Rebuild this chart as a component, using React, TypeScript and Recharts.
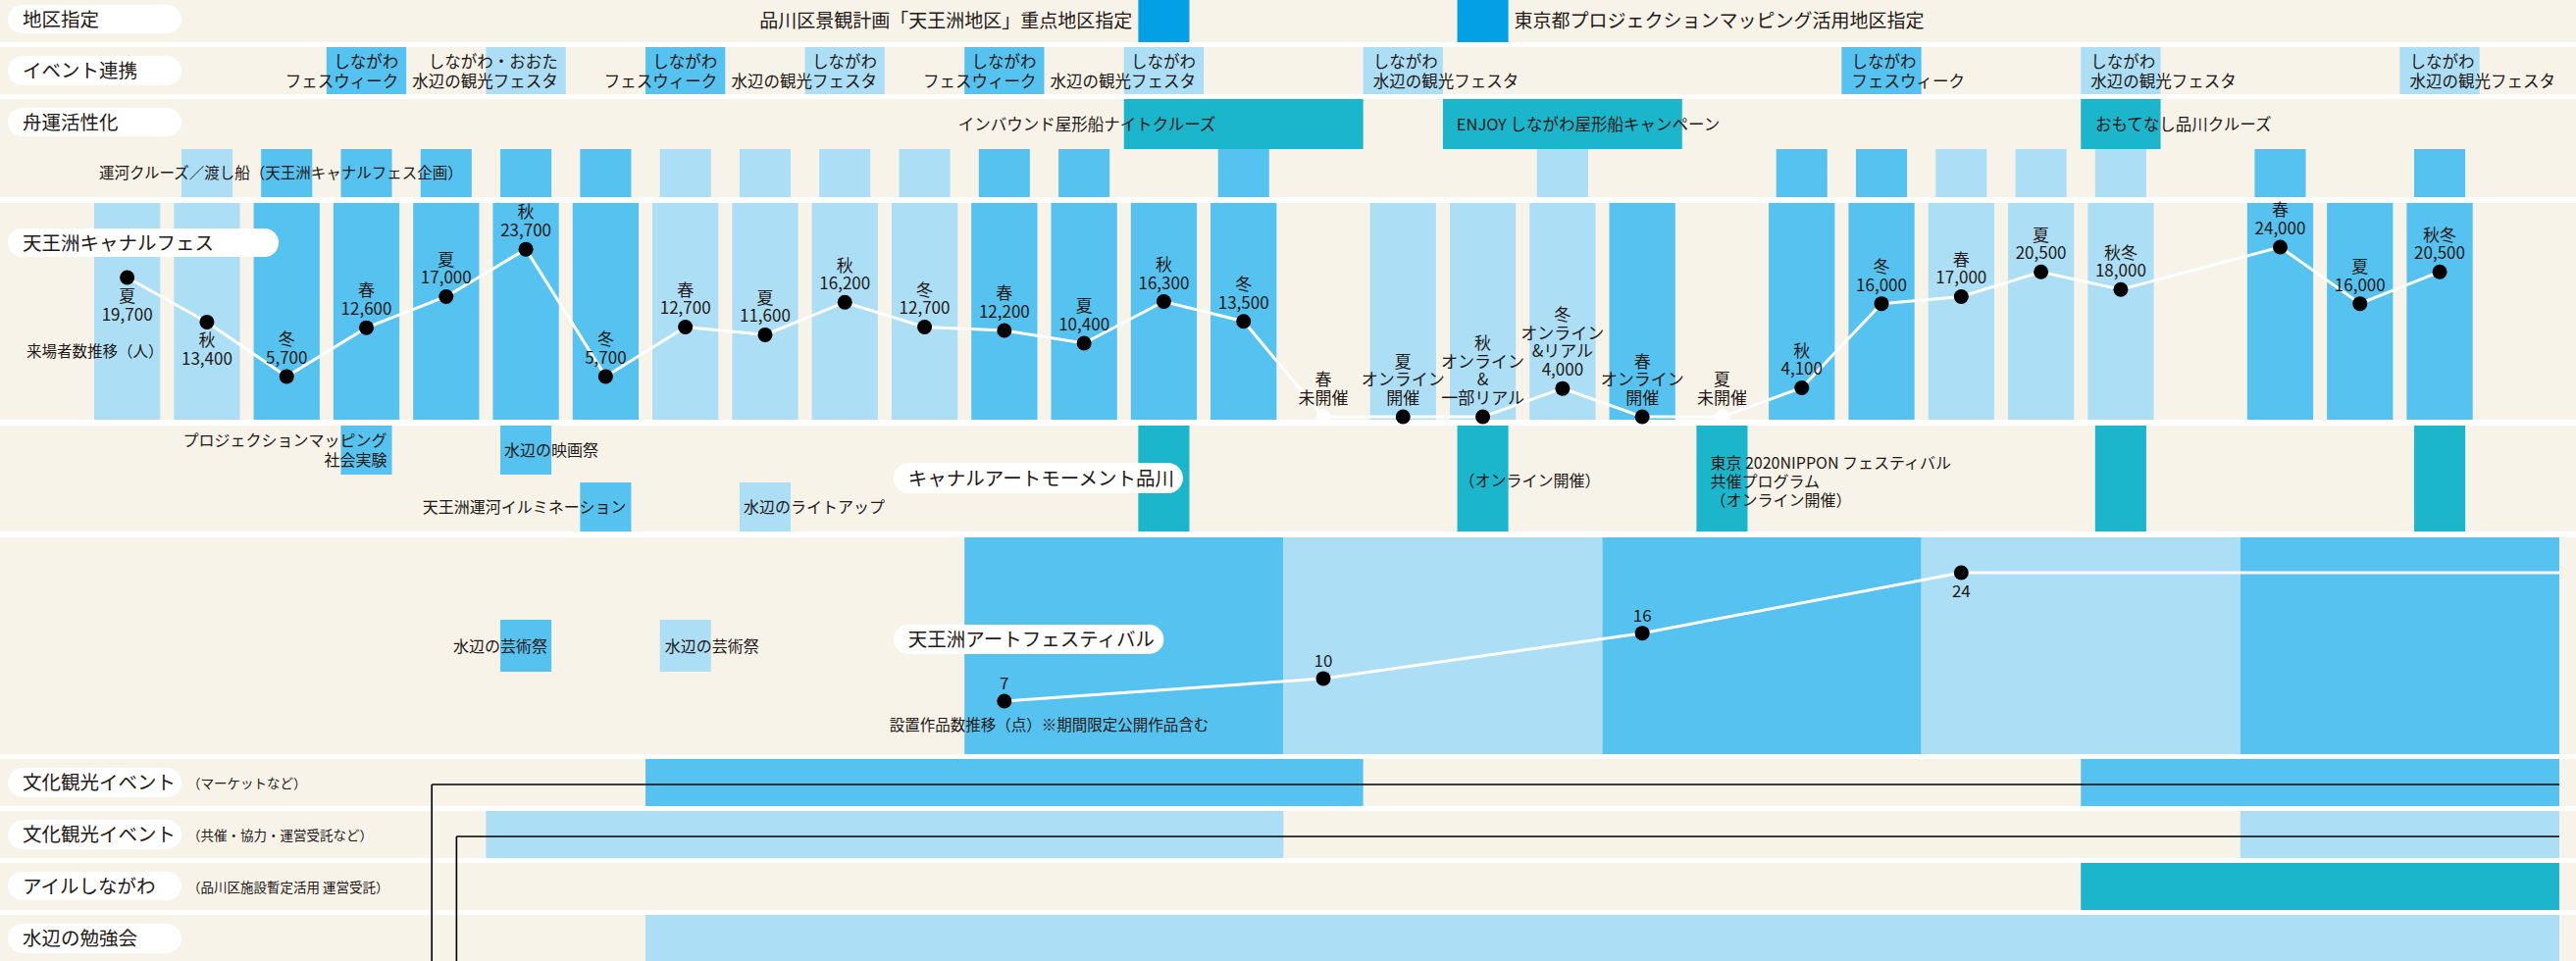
import React from "react";
import {
  ComposedChart,
  XAxis,
  YAxis,
  Line,
  ReferenceArea,
  ReferenceDot,
  ReferenceLine,
} from "recharts";

document.body.style.margin = "0";

const WIDTH = 2626;
const HEIGHT = 980;

const INK = "#231815";
const CREAM = "#f7f3e9";
const FONT = "'Noto Sans CJK JP', 'Noto Sans', sans-serif";
const toneColor: Record<string, string> = {
  blue: "#56c2f0",
  light: "#acdff6",
  teal: "#1cb6cc",
  deep: "#03a0e6",
};

// x axis: one unit = one season slot (81.3px), slot 0 starts at 89px
const SLOT_PX = 81.29;
const SLOT_ORIGIN = 89;
const X_DOMAIN: [number, number] = [-SLOT_ORIGIN / SLOT_PX, (WIDTH - SLOT_ORIGIN) / SLOT_PX];
const BAR_PAD = 7 / SLOT_PX;
const NARROW_PAD = 14.6 / SLOT_PX;

// value axis helper: value v1 sits at pixel y1, v2 at y2
const linearDomain = (v1: number, y1: number, v2: number, y2: number): [number, number] => {
  const pxPerUnit = (y1 - y2) / (v2 - v1);
  return [v1 - (HEIGHT - y1) / pxPerUnit, v1 + y1 / pxPerUnit];
};
const VISITOR_DOMAIN = linearDomain(0, 425, 24000, 252);
const WORKS_DOMAIN = linearDomain(0, 769, 24, 584);

// ---------------- data ----------------

// 地区指定
const districtSlots = [13, 17];
const districtNames = [
  "品川区景観計画「天王洲地区」重点地区指定",
  "東京都プロジェクションマッピング活用地区指定",
];

// イベント連携
const linkSlots = [3, 5, 7, 9, 11, 13, 16, 22, 25, 29];
const linkNames = [
  ["しながわ", "フェスウィーク"],
  ["しながわ・おおた", "水辺の観光フェスタ"],
  ["しながわ", "フェスウィーク"],
  ["しながわ", "水辺の観光フェスタ"],
  ["しながわ", "フェスウィーク"],
  ["しながわ", "水辺の観光フェスタ"],
  ["しながわ", "水辺の観光フェスタ"],
  ["しながわ", "フェスウィーク"],
  ["しながわ", "水辺の観光フェスタ"],
  ["しながわ", "水辺の観光フェスタ"],
];

// 舟運活性化
const cruiseFrom = [13, 17, 25];
const cruiseTo = [16, 20, 26];
const cruiseLabelAt = [10.92, 17.17, 25.18];
const cruiseNames = [
  "インバウンド屋形船ナイトクルーズ",
  "ENJOY しながわ屋形船キャンペーン",
  "おもてなし品川クルーズ",
];

// 運河クルーズ／渡し船
const ferryLightSlots = [1, 7, 8, 9, 10, 18, 23, 24, 25];
const ferryBlueSlots = [2, 3, 4, 5, 6, 11, 12, 14, 21, 22, 27, 29];

// 天王洲キャナルフェス
const festSeasons = [
  "夏", "秋", "冬", "春", "夏", "秋", "冬", "春", "夏", "秋",
  "冬", "春", "夏", "秋", "冬", "春", "夏", "秋", "冬", "春",
  "夏", "秋", "冬", "春", "夏", "秋冬", "", "春", "夏", "秋冬",
];
const festVisitors: (number | null)[] = [
  19700, 13400, 5700, 12600, 17000, 23700, 5700, 12700, 11600, 16200,
  12700, 12200, 10400, 16300, 13500, 0, 0, 0, 4000, 0,
  0, 4100, 16000, 17000, 20500, 18000, null, 24000, 16000, 20500,
];
const festTones = [
  "light", "light", "blue", "blue", "blue", "blue", "blue", "light", "light", "light",
  "light", "blue", "blue", "blue", "blue", "", "light", "light", "light", "blue",
  "", "blue", "blue", "light", "light", "light", "", "blue", "blue", "blue",
];
const festNotes: Record<number, string[]> = {
  15: ["未開催"],
  16: ["オンライン", "開催"],
  17: ["オンライン", "&", "一部リアル"],
  18: ["オンライン", "&リアル"],
  19: ["オンライン", "開催"],
  20: ["未開催"],
};
const festLabelBelow = [0, 1];

// プロジェクションマッピング等
const sideSlots = [3, 5, 6, 8];
const sideTiers = ["upper", "upper", "lower", "lower"];
const sideTones = ["blue", "blue", "blue", "light"];
const sideNames = [
  ["プロジェクションマッピング", "社会実験"],
  ["水辺の映画祭"],
  ["天王洲運河イルミネーション"],
  ["水辺のライトアップ"],
];

// キャナルアートモーメント品川
const momentSlots = [13, 17, 20, 25, 29];

// 水辺の芸術祭
const artFairSlots = [5, 7];
const artFairTones = ["blue", "light"];

// 天王洲アートフェスティバル
const artYearFrom = [11, 15, 19, 23, 27];
const artYearTo = [15, 19, 23, 27, 31];
const artYearTones = ["blue", "light", "blue", "light", "blue"];
const artSlots = [11.5, 15.5, 19.5, 23.5, 31];
const artWorks = [7, 10, 16, 24, 24];

// bottom rows
const marketFrom = [7, 25];
const marketTo = [16, 31];
const coopFrom = [5, 27];
const coopTo = [15, 31];
const isleFrom = [25];
const isleTo = [31];
const studyFrom = [7];
const studyTo = [31];

// ---------------- layout (px rows) ----------------
const ROWS: [number, number][] = [
  [0, 43], [48, 96], [101, 201], [207, 428], [434, 542],
  [548, 769], [774, 822], [827, 875], [880, 928], [933, 980],
];

const festData = festVisitors.map((v, i) => ({ slot: i + 0.5, visitors: v }));
const artData = artSlots.map((s, i) => ({ slot: s, works: artWorks[i], last: i === artSlots.length - 1 }));

// ---------------- helpers ----------------
const TextLines = ({
  cx, cy, lines, size = 16, anchor = "start", lh = 20, dx = 0,
}: {
  cx: number; cy: number; lines: string[]; size?: number; anchor?: string; lh?: number; dx?: number;
}) => {
  const top = cy - ((lines.length - 1) * lh) / 2;
  return (
    <text fontSize={size} fill={INK} textAnchor={anchor as any} fontFamily={FONT}>
      {lines.map((t, i) => (
        <tspan key={i} x={cx + dx} y={top + i * lh + size * 0.36}>
          {t}
        </tspan>
      ))}
    </text>
  );
};

const note = (
  key: string, x: number, y: number, lines: string[],
  opts: { size?: number; anchor?: string; lh?: number; dx?: number } = {}
) => (
  <ReferenceDot
    key={key}
    x={x}
    y={y}
    yAxisId="px"
    r={0}
    ifOverflow="visible"
    shape={(p: any) => <TextLines cx={p.cx} cy={p.cy} lines={lines} {...opts} />}
  />
);

const block = (key: string, x1: number, x2: number, y1: number, y2: number, fill: string) => (
  <ReferenceArea
    key={key}
    x1={x1}
    x2={x2}
    y1={y1}
    y2={y2}
    yAxisId="px"
    fill={fill}
    fillOpacity={1}
    stroke="none"
    ifOverflow="visible"
  />
);

const pill = (key: string, x1: number, x2: number, y1: number, y2: number, text: string, size = 19.5) => (
  <ReferenceArea
    key={key}
    x1={x1}
    x2={x2}
    y1={y1}
    y2={y2}
    yAxisId="px"
    fillOpacity={1}
    ifOverflow="visible"
    shape={(p: any) => (
      <g>
        <rect x={p.x} y={p.y} width={p.width} height={p.height} rx={p.height / 2} fill="#fff" />
        <text x={p.x + 15} y={p.y + p.height / 2 + size * 0.36} fontSize={size} fill={INK} fontFamily={FONT}>
          {text}
        </text>
      </g>
    )}
  />
);

const festLines = (i: number) => {
  const lines = [festSeasons[i], ...(festNotes[i] || [])];
  const v = festVisitors[i];
  if (v) lines.push(v.toLocaleString("en-US"));
  return lines;
};

const renderFestDot = (props: any) => {
  const { cx, cy, payload } = props;
  const i = Math.round(payload.slot - 0.5);
  if (payload.visitors == null || cx == null || cy == null) return <g key={`fd-${i}`} />;
  const lines = festLines(i);
  const below = festLabelBelow.includes(i);
  const closed = (festNotes[i] || []).includes("未開催");
  return (
    <g key={`fd-${i}`}>
      <circle cx={cx} cy={cy} r={7.5} fill={closed ? "#fff" : "#000"} />
      <text textAnchor="middle" fontSize={17} fill={INK} fontFamily={FONT}>
        {lines.map((t, k) => {
          const y = below ? cy + 19 + k * 18.7 : cy - 19 - (lines.length - 1 - k) * 18.7;
          return (
            <tspan key={k} x={cx} y={y + 6}>
              {t}
            </tspan>
          );
        })}
      </text>
    </g>
  );
};

const renderArtDot = (props: any) => {
  const { cx, cy, payload, index } = props;
  if (payload.last || cx == null || cy == null) return <g key={`ad-${index}`} />;
  const below = payload.works >= 24;
  return (
    <g key={`ad-${index}`}>
      <circle cx={cx} cy={cy} r={7.5} fill="#000" />
      <text x={cx} y={below ? cy + 25 : cy - 12} textAnchor="middle" fontSize={17} fill={INK} fontFamily={FONT}>
        {payload.works}
      </text>
    </g>
  );
};

export default function App() {
  const [r1, r2, r3, r4, r5, r6, r7, r8, r9, r10] = ROWS;
  const items: React.ReactNode[] = [];

  // row bands
  ROWS.forEach((r, i) => items.push(block(`band-${i}`, X_DOMAIN[0], X_DOMAIN[1], r[0], r[1], CREAM)));

  // 地区指定
  districtSlots.forEach((s, i) =>
    items.push(block(`dist-${i}`, s + NARROW_PAD, s + 1 - NARROW_PAD, r1[0], r1[1], toneColor.deep))
  );

  // イベント連携
  linkSlots.forEach((s, i) => {
    const tone = linkNames[i][1].includes("フェスウィーク") ? "blue" : "light";
    items.push(block(`link-${i}`, s, s + 1, r2[0], r2[1], toneColor[tone]));
  });

  // 舟運活性化
  cruiseFrom.forEach((s, i) =>
    items.push(block(`cruise-${i}`, s, cruiseTo[i], r3[0], 152, toneColor.teal))
  );
  ferryLightSlots.forEach((s) =>
    items.push(block(`ferryL-${s}`, s + NARROW_PAD, s + 1 - NARROW_PAD, 152, r3[1], toneColor.light))
  );
  ferryBlueSlots.forEach((s) =>
    items.push(block(`ferryB-${s}`, s + NARROW_PAD, s + 1 - NARROW_PAD, 152, r3[1], toneColor.blue))
  );

  // キャナルフェス bars
  festTones.forEach((t, i) => {
    if (t) items.push(block(`fest-${i}`, i + BAR_PAD, i + 1 - BAR_PAD, r4[0], r4[1], toneColor[t]));
  });

  // row 5
  sideSlots.forEach((s, i) => {
    const [y1, y2] = sideTiers[i] === "upper" ? [r5[0], 484] : [492, r5[1]];
    items.push(block(`side-${i}`, s + NARROW_PAD, s + 1 - NARROW_PAD, y1, y2, toneColor[sideTones[i]]));
  });
  momentSlots.forEach((s) =>
    items.push(block(`moment-${s}`, s + NARROW_PAD, s + 1 - NARROW_PAD, r5[0], r5[1], toneColor.teal))
  );

  // row 6
  artYearFrom.forEach((s, i) =>
    items.push(block(`artyear-${i}`, s, artYearTo[i], r6[0], r6[1], toneColor[artYearTones[i]]))
  );
  artFairSlots.forEach((s, i) =>
    items.push(block(`artfair-${i}`, s + NARROW_PAD, s + 1 - NARROW_PAD, 632, 685, toneColor[artFairTones[i]]))
  );

  // bottom rows
  marketFrom.forEach((s, i) => items.push(block(`market-${i}`, s, marketTo[i], r7[0], r7[1], toneColor.blue)));
  coopFrom.forEach((s, i) => items.push(block(`coop-${i}`, s, coopTo[i], r8[0], r8[1], toneColor.light)));
  isleFrom.forEach((s, i) => items.push(block(`isle-${i}`, s, isleTo[i], r9[0], r9[1], toneColor.teal)));
  studyFrom.forEach((s, i) => items.push(block(`study-${i}`, s, studyTo[i], r10[0], r10[1], toneColor.light)));

  // pills
  const pL = -0.996;
  const pR = 1.181;
  items.push(pill("p-dist", pL, pR, 5, 34, "地区指定"));
  items.push(pill("p-link", pL, pR, 57, 87, "イベント連携"));
  items.push(pill("p-boat", pL, pR, 110, 139, "舟運活性化"));
  items.push(pill("p-fest", pL, 2.4, 233, 262, "天王洲キャナルフェス"));
  items.push(pill("p-moment", 10.11, 13.74, 472, 503, "キャナルアートモーメント品川"));
  items.push(pill("p-art", 10.11, 13.5, 637, 667, "天王洲アートフェスティバル"));
  items.push(pill("p-market", pL, pR, 783, 813, "文化観光イベント"));
  items.push(pill("p-coop", pL, pR, 836, 866, "文化観光イベント"));
  items.push(pill("p-isle", pL, pR, 889, 918, "アイルしながわ"));
  items.push(pill("p-study", pL, pR, 942, 972, "水辺の勉強会"));

  // ongoing brackets
  items.push(
    <ReferenceLine key="br1a" yAxisId="px" segment={[{ x: 4.32, y: 980 }, { x: 4.32, y: 800 }]} stroke="#000" strokeWidth={1.6} ifOverflow="visible" />,
    <ReferenceLine key="br1b" yAxisId="px" segment={[{ x: 4.32, y: 800 }, { x: 31, y: 800 }]} stroke="#000" strokeWidth={1.6} ifOverflow="visible" />,
    <ReferenceLine key="br2a" yAxisId="px" segment={[{ x: 4.63, y: 980 }, { x: 4.63, y: 853 }]} stroke="#000" strokeWidth={1.6} ifOverflow="visible" />,
    <ReferenceLine key="br2b" yAxisId="px" segment={[{ x: 4.63, y: 853 }, { x: 31, y: 853 }]} stroke="#000" strokeWidth={1.6} ifOverflow="visible" />
  );

  // texts
  items.push(note("t-dist0", districtSlots[0] + NARROW_PAD, 21, [districtNames[0]], { size: 19, anchor: "end", dx: -6 }));
  items.push(note("t-dist1", districtSlots[1] + 1 - NARROW_PAD, 21, [districtNames[1]], { size: 19, dx: 6 }));
  linkSlots.forEach((s, i) => {
    const right = s < 15;
    items.push(
      note(`t-link-${i}`, right ? s + 1 : s, 73, linkNames[i], {
        size: 16.5, anchor: right ? "end" : "start", dx: right ? -8 : 10, lh: 20,
      })
    );
  });
  cruiseLabelAt.forEach((x, i) => items.push(note(`t-cruise-${i}`, x, 127, [cruiseNames[i]], { size: 16.5 })));
  items.push(note("t-ferry", 0.148, 176, ["運河クルーズ／渡し船（天王洲キャナルフェス企画）"], { size: 15.5 }));
  items.push(note("t-visitors", -0.763, 358, ["来場者数推移（人）"], { size: 15.5 }));

  sideSlots.forEach((s, i) => {
    const right = sideNames[i].length > 1 || sideNames[i][0].length > 10;
    const y = sideTiers[i] === "upper" ? 459 : 517;
    items.push(
      note(`t-side-${i}`, right ? s + 1 - NARROW_PAD : s + NARROW_PAD, y, sideNames[i], {
        size: 16, anchor: right ? "end" : "start", dx: right ? -5 : 4, lh: 20,
      })
    );
  });
  items.push(note("t-online", 17 + NARROW_PAD, 490, ["（オンライン開催）"], { size: 16, dx: 2 }));
  items.push(
    note("t-tokyo", 20 + NARROW_PAD, 491, ["東京 2020NIPPON フェスティバル", "共催プログラム", "（オンライン開催）"], {
      size: 16, dx: 14, lh: 19,
    })
  );
  items.push(note("t-fair0", artFairSlots[0] + 1 - NARROW_PAD, 659, ["水辺の芸術祭"], { size: 16, anchor: "end", dx: -4 }));
  items.push(note("t-fair1", artFairSlots[1] + NARROW_PAD, 659, ["水辺の芸術祭"], { size: 16, dx: 5 }));
  items.push(note("t-works", 10.06, 739, ["設置作品数推移（点）※期間限定公開作品含む"], { size: 15.5 }));
  items.push(note("t-market", 1.255, 799, ["（マーケットなど）"], { size: 13.5 }));
  items.push(note("t-coop", 1.255, 852, ["（共催・協力・運営受託など）"], { size: 13.5 }));
  items.push(note("t-isle", 1.255, 905, ["（品川区施設暫定活用 運営受託）"], { size: 13.5 }));

  return (
    <div style={{ width: WIDTH, height: HEIGHT, background: "#fff", fontFamily: FONT }}>
      <ComposedChart width={WIDTH} height={HEIGHT} margin={{ top: 0, right: 0, bottom: 0, left: 0 }}>
        <XAxis type="number" dataKey="slot" domain={X_DOMAIN} hide allowDataOverflow />
        <YAxis yAxisId="px" type="number" domain={[0, HEIGHT]} reversed hide allowDataOverflow />
        <YAxis yAxisId="visitors" type="number" domain={VISITOR_DOMAIN} hide allowDataOverflow />
        <YAxis yAxisId="works" type="number" domain={WORKS_DOMAIN} hide allowDataOverflow />
        {items}
        <Line
          data={festData}
          dataKey="visitors"
          yAxisId="visitors"
          type="linear"
          stroke="#fff"
          strokeWidth={3}
          connectNulls
          dot={renderFestDot}
          activeDot={false}
          isAnimationActive={false}
        />
        <Line
          data={artData}
          dataKey="works"
          yAxisId="works"
          type="linear"
          stroke="#fff"
          strokeWidth={3}
          dot={renderArtDot}
          activeDot={false}
          isAnimationActive={false}
        />
      </ComposedChart>
    </div>
  );
}
